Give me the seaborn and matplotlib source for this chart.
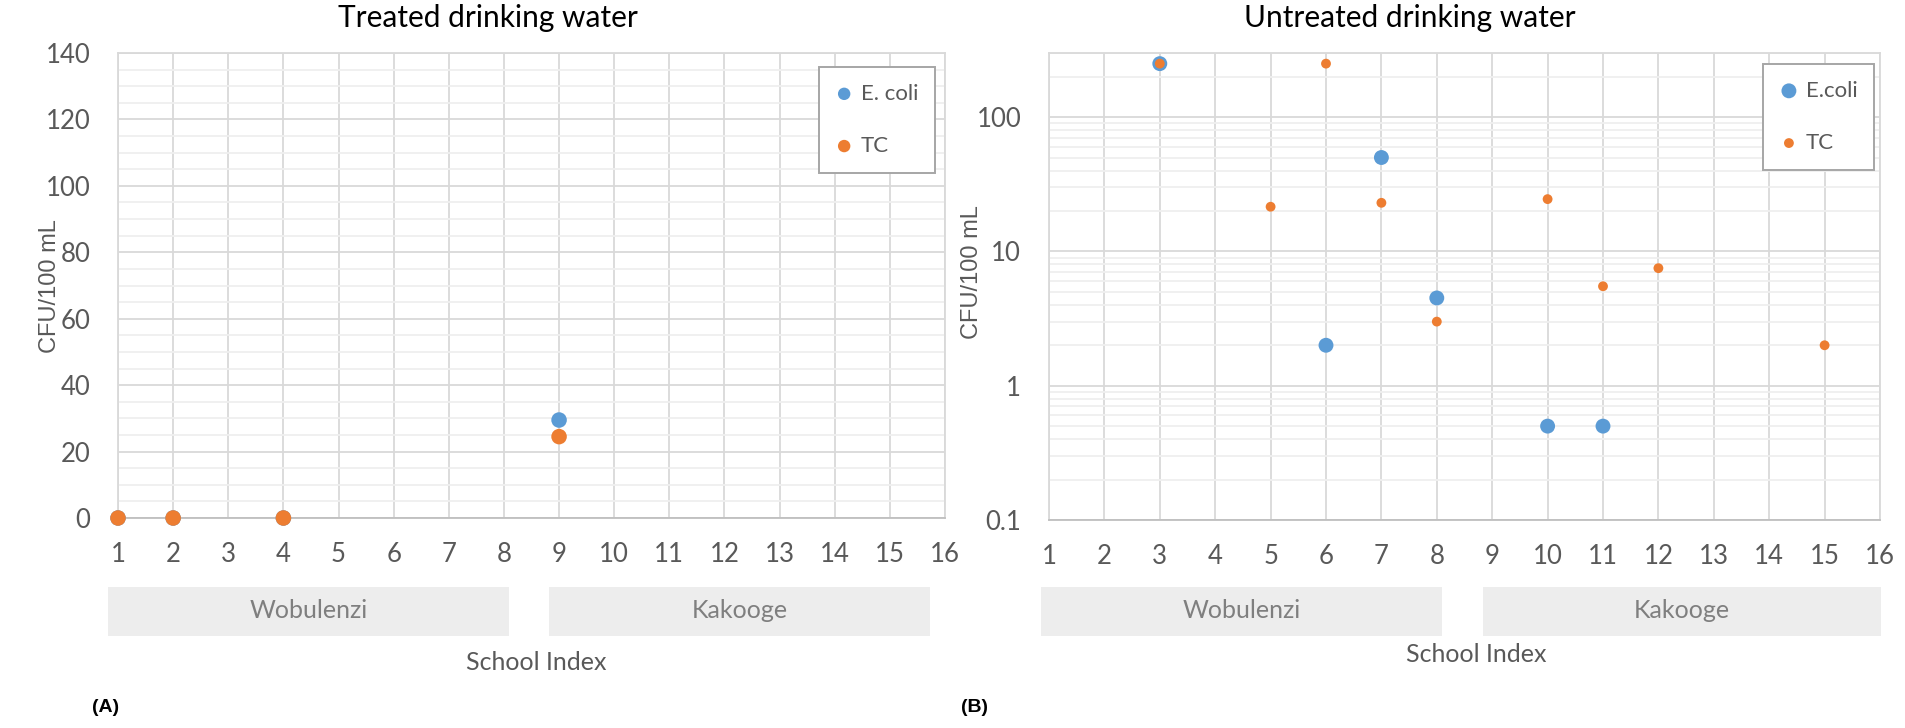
import numpy as np
import pandas as pd
import matplotlib
matplotlib.use("Agg")
import matplotlib.pyplot as plt
import matplotlib.ticker as mticker
from matplotlib.patches import Rectangle
import seaborn as sns

# ---------------------------------------------------------------
# data
# ---------------------------------------------------------------
treated_school = [1, 2, 4, 9]
treated_ecoli = [0, 0, 0, 29.5]
treated_tc = [0, 0, 0, 24.5]

untreated_ecoli_school = [3, 6, 7, 8, 10, 11]
untreated_ecoli = [250, 2, 50, 4.5, 0.5, 0.5]
untreated_tc_school = [3, 5, 6, 7, 8, 10, 11, 12, 15]
untreated_tc = [250, 21.5, 250, 23, 3, 24.5, 5.5, 7.5, 2]

school_ticks = list(range(1, 17))
treated_yticks = [0, 20, 40, 60, 80, 100, 120, 140]
untreated_yticks = [0.1, 1, 10, 100]
untreated_yticklabels = ["0.1", "1", "10", "100"]
regions = ["Wobulenzi", "Kakooge"]

BLUE = "#5B9BD5"
ORANGE = "#ED7D31"
TXT = "#595959"
GRID = "#d9d9d9"
MINOR = "#efefef"
ARIAL = ['Liberation Sans', 'DejaVu Sans']

sns.set_style("white")
plt.rcParams['font.family'] = ['Lato', 'DejaVu Sans']

W, H = 1905, 728
fig = plt.figure(figsize=(W / 100, H / 100), dpi=100)


def px_axes(x0, y0, x1, y1):
    return fig.add_axes([x0 / W, 1 - y1 / H, (x1 - x0) / W, (y1 - y0) / H])


def px_text(x, y, s, **kw):
    kw.setdefault('ha', 'center')
    kw.setdefault('va', 'center')
    return fig.text(x / W, 1 - y / H, s, **kw)


def style_axes(ax):
    for s in ax.spines.values():
        s.set_color(GRID)
        s.set_linewidth(1.3)
    ax.spines['bottom'].set_color("#bfbfbf")
    ax.tick_params(length=0, labelsize=18.5, labelcolor=TXT)
    ax.tick_params(axis='x', pad=17)
    ax.tick_params(axis='y', pad=20)
    ax.set_xticks(school_ticks)
    ax.set_xlim(1, 16)
    ax.grid(True, which='major', color=GRID, lw=1.3)
    ax.grid(True, which='minor', axis='y', color=MINOR, lw=1.3)
    ax.set_axisbelow(True)
    ax.set_xlabel("")
    ax.set_ylabel("")


def style_legend(ax, right_px, top_px, markerscale):
    # legend corner given in figure pixels (top-left origin)
    leg = ax.legend(loc='upper right', bbox_to_anchor=(right_px / W, 1 - top_px / H),
                    bbox_transform=fig.transFigure, fontsize=16,
                    frameon=True, fancybox=False, framealpha=1, edgecolor="#a6a6a6",
                    labelspacing=1.45, handletextpad=0.35, borderpad=0.75,
                    handlelength=0.8, borderaxespad=0, markerscale=markerscale)
    leg.get_frame().set_linewidth(1.4)
    for t in leg.get_texts():
        t.set_color(TXT)


def bands(x_spans, y0, y1, label_y):
    for (xa, xb), name in zip(x_spans, regions):
        fig.patches.append(Rectangle((xa / W, 1 - y1 / H), (xb - xa) / W, (y1 - y0) / H,
                                     transform=fig.transFigure, facecolor="#ededed",
                                     edgecolor="none"))
        px_text((xa + xb) / 2, label_y, name, fontsize=18, color="#7f7f7f")


# ---------------------------------------------------------------
# (A) treated
# ---------------------------------------------------------------
ax1 = px_axes(118, 53, 945, 518)
df_t = pd.DataFrame({"school": treated_school, "ecoli": treated_ecoli, "tc": treated_tc})
sns.scatterplot(data=df_t, x="school", y="ecoli", ax=ax1, color=BLUE, s=125,
                edgecolor="none", label="E. coli", zorder=3, clip_on=False)
sns.scatterplot(data=df_t, x="school", y="tc", ax=ax1, color=ORANGE, s=125,
                edgecolor="none", label="TC", zorder=4, clip_on=False)
style_axes(ax1)
ax1.set_ylim(0, 140)
ax1.set_yticks(treated_yticks)
ax1.yaxis.set_minor_locator(mticker.MultipleLocator(5))
style_legend(ax1, 935, 67, 0.8)

px_text(488, 18, "Treated drinking water", fontsize=21.5, color="black")
px_text(50, 286, "CFU/100 mL", rotation=90, fontsize=17, color=TXT, family=ARIAL)
bands([(108, 509), (549, 930)], 587, 636, 611)
px_text(536, 663, "School Index", fontsize=18, color=TXT)
px_text(106, 707, "(A)", fontsize=14, fontweight='bold', color="black", family=ARIAL)

# ---------------------------------------------------------------
# (B) untreated
# ---------------------------------------------------------------
ax2 = px_axes(1049, 53, 1880, 520)
df_ue = pd.DataFrame({"school": untreated_ecoli_school, "cfu": untreated_ecoli})
df_ut = pd.DataFrame({"school": untreated_tc_school, "cfu": untreated_tc})
sns.scatterplot(data=df_ue, x="school", y="cfu", ax=ax2, color=BLUE, s=115,
                edgecolor="none", label="E.coli", zorder=3)
sns.scatterplot(data=df_ut, x="school", y="cfu", ax=ax2, color=ORANGE, s=50,
                edgecolor="none", label="TC", zorder=4)
ax2.set_yscale('log')
style_axes(ax2)
ax2.set_ylim(0.1, 300)
ax2.set_yticks(untreated_yticks)
ax2.set_yticklabels(untreated_yticklabels)
ax2.yaxis.set_minor_locator(mticker.LogLocator(base=10, subs=np.arange(2, 10)))
ax2.yaxis.set_minor_formatter(mticker.NullFormatter())
style_legend(ax2, 1874, 64, 1.0)

px_text(1410, 18, "Untreated drinking water", fontsize=21.5, color="black")
px_text(972, 272, "CFU/100 mL", rotation=90, fontsize=17, color=TXT, family=ARIAL)
bands([(1041, 1442), (1483, 1881)], 587, 636, 611)
px_text(1476, 655, "School Index", fontsize=18, color=TXT)
px_text(975, 707, "(B)", fontsize=14, fontweight='bold', color="black", family=ARIAL)

fig.savefig("out.png", dpi=100)
